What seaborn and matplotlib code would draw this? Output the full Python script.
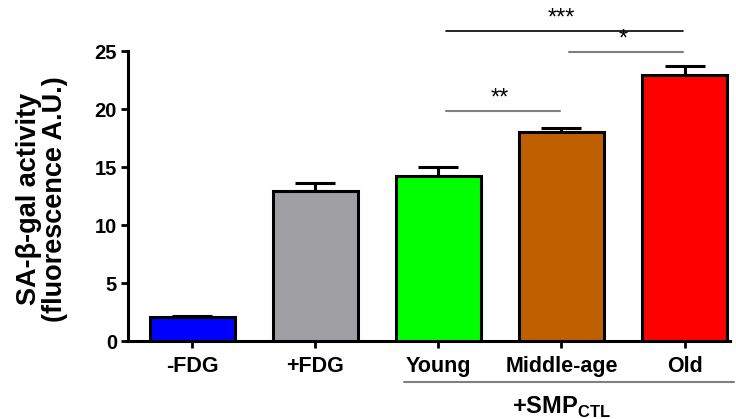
import numpy as np
import pandas as pd
import matplotlib
matplotlib.use("Agg")
import matplotlib.pyplot as plt
import seaborn as sns

# --- データ ---
groups = ["-FDG", "+FDG", "Young", "Middle-age", "Old"]
means = [2.1, 12.9, 14.2, 18.0, 22.9]
sems = [0.1, 0.7, 0.8, 0.4, 0.8]
colors = ["#0000FF", "#A09FA4", "#00FF00", "#BF6000", "#FF0000"]

# 有意差 (左, 右, 高さ, ラベル, 線の色)
sig_pairs = [(2, 3, 19.8, "**", "#808080"),
             (3, 4, 24.9, "*", "#808080"),
             (2, 4, 26.7, "***", "black")]

sns.set_theme(style="ticks")
plt.rcParams["font.family"] = ["Liberation Sans", "DejaVu Sans"]
plt.rcParams["font.weight"] = "bold"
plt.rcParams["mathtext.fontset"] = "custom"
plt.rcParams["mathtext.bf"] = "Liberation Sans:bold"
plt.rcParams["mathtext.rm"] = "Liberation Sans:bold"
for k in ["text.color", "axes.labelcolor", "xtick.color", "ytick.color"]:
    plt.rcParams[k] = "black"

df = pd.DataFrame({"group": groups, "value": means})

fig = plt.figure(figsize=(7.36, 4.19), dpi=100)
ax = fig.add_axes([0.174, 0.186, 0.818, 0.692])

sns.barplot(data=df, x="group", y="value", hue="group", palette=colors,
            legend=False, errorbar=None, width=0.69, edgecolor="black",
            linewidth=2.2, saturation=1, ax=ax, zorder=3)

x = np.arange(len(groups))
ax.errorbar(x, means, yerr=[np.zeros(len(sems)), sems], fmt="none",
            ecolor="black", elinewidth=2.2, capsize=14.5, capthick=2.2, zorder=2)

ax.set_xlim(-0.52, 4.37)
ax.set_ylim(0, 25)
ax.set_yticks([0, 5, 10, 15, 20, 25])
ax.set_xlabel("")
ax.set_ylabel("SA-β-gal activity\n(fluorescence A.U.)", fontsize=19.5,
              fontweight="bold", linespacing=1.0)
ax.yaxis.set_label_coords(-0.1, 0.49)
ax.tick_params(axis="y", labelsize=14.5, width=2, length=5, pad=3)
ax.tick_params(axis="x", labelsize=15.5, width=2, length=5, pad=6)
for lab in ax.get_xticklabels() + ax.get_yticklabels():
    lab.set_fontweight("bold")
sns.despine(ax=ax)
for s in ["left", "bottom"]:
    ax.spines[s].set_linewidth(2.2)
    ax.spines[s].set_color("black")

# 有意差の線
for a, b, h, txt, c in sig_pairs:
    ax.plot([a + 0.06, b - 0.01], [h, h], color=c, lw=1.2 if c == "black" else 1.5,
            clip_on=False)
    ax.text((a + b) / 2, h + 0.15, txt, ha="center", va="bottom",
            fontsize=17, fontweight="normal")

# 下の括弧
ax.plot([1.72, 4.4], [-3.5, -3.5], color="#808080", lw=1.5, clip_on=False)
ax.text(3.0, -4.6, r"+SMP$_{\mathbf{CTL}}$", ha="center", va="top",
        fontsize=17, fontweight="bold")

fig.savefig("out.png", dpi=100)
